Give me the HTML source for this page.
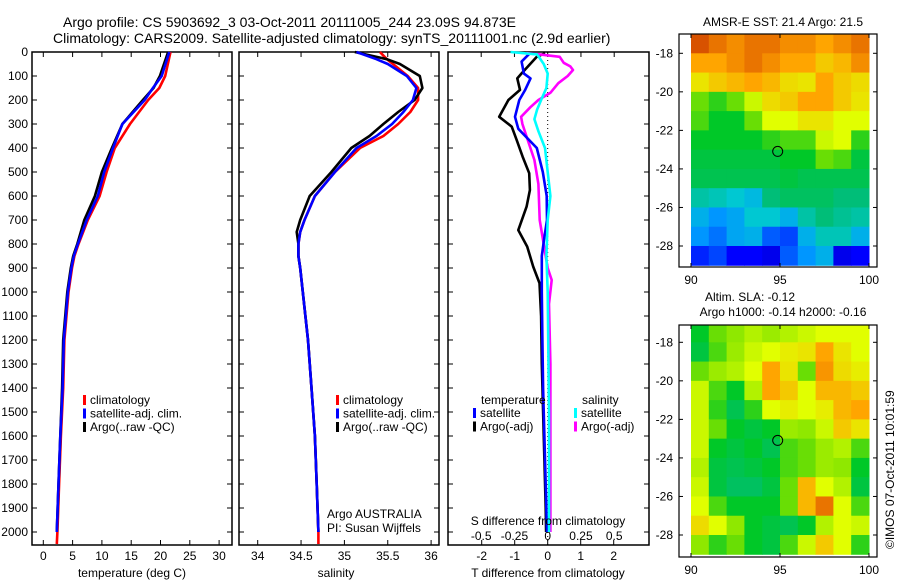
<!DOCTYPE html>
<html><head><meta charset="utf-8">
<style>
html,body{margin:0;padding:0;background:#fff;}
svg{display:block;font-family:"Liberation Sans",sans-serif;}
text{font-size:12px;fill:#000;}
</style></head>
<body>
<svg id="chart" width="900" height="580" viewBox="0 0 900 580" xmlns="http://www.w3.org/2000/svg">
<text x="63" y="27" style="font-size:14px">Argo profile: CS 5903692_3 03-Oct-2011 20111005_244 23.09S 94.873E</text>
<text x="53" y="43" style="font-size:14px">Climatology: CARS2009. Satellite-adjusted climatology: synTS_20111001.nc (2.9d earlier)</text>
<g id="g"></g>
</svg>
<script>
// ---- depth grid / data ----
const tDepth = [0,100,150,200,300,400,500,600,700,800,850,900,1000,1200,1400,1600,1800,2000,2050];
const tClim  = [21.7,20.8,19.8,17.9,14.8,12.2,10.8,9.6,7.6,6.0,5.3,4.9,4.3,3.6,3.4,3.0,2.7,2.4,2.3];
const tSat   = [21.5,20.2,18.7,17.3,13.5,11.9,10.4,9.3,7.4,5.9,5.2,4.8,4.2,3.5,3.3,2.9,2.6,2.3];
const tArgo  = [21.3,19.9,18.8,17.0,13.5,11.7,10.0,8.8,7.0,5.8,5.1,4.7,4.1,3.4,3.2,2.9,2.6,2.3];
const sDepth = [0,30,50,100,150,200,250,300,350,400,500,600,700,750,800,850,900,1000,1200,1400,1600,1800,2000,2050];
const sClim  = [35.41,35.49,35.56,35.73,35.85,35.85,35.76,35.62,35.45,35.18,34.89,34.66,34.54,34.49,34.47,34.47,34.49,34.52,34.58,34.62,34.66,34.68,34.70,34.70];
const sSat   = [35.14,35.37,35.50,35.72,35.83,35.79,35.68,35.55,35.37,35.14,34.89,34.66,34.54,34.49,34.47,34.47,34.49,34.52,34.58,34.62,34.66,34.68,34.70];
const sArgo  = [35.12,35.49,35.64,35.87,35.90,35.81,35.62,35.45,35.29,35.08,34.85,34.60,34.49,34.45,34.47,34.47,34.49,34.52,34.58,34.62,34.66,34.68,34.70];
const dTArgoDepth = [5,20,89,110,158,200,270,311,367,436,505,575,644,742,811,894,963,1100,1300,1500,1700,1900,2000];
const dTArgo      = [-0.08,-0.33,-0.79,-0.92,-0.84,-1.19,-1.47,-1.09,-0.94,-0.76,-0.56,-0.54,-0.64,-0.89,-0.62,-0.44,-0.25,-0.2,-0.18,-0.14,-0.1,-0.06,-0.05];
const dTSatDepth = [5,40,90,110,160,200,270,320,400,500,600,700,780,850,1000,1200,1400,1600,1800,2000];
const dTSat      = [-0.54,-0.79,-0.72,-0.52,-0.69,-0.86,-0.99,-0.89,-0.33,-0.15,-0.03,-0.02,-0.11,-0.18,-0.18,-0.16,-0.14,-0.1,-0.06,-0.02];
const dSSatDepth = [0,10,50,90,150,200,240,280,330,400,500,600,700,850,1000,1500,2000];
const dSSat      = [-0.28,-0.08,-0.03,0.0,-0.01,-0.05,-0.08,-0.10,-0.07,-0.02,0.0,0.02,0.0,-0.01,0.0,0.01,0.01];
const dSArgoDepth = [5,10,20,45,60,75,100,130,170,200,230,270,300,350,400,450,550,700,800,900,950,1050,1300,1600,2000];
const dSArgo      = [-0.16,-0.06,0.09,0.12,0.17,0.19,0.15,0.08,0.02,-0.07,-0.13,-0.20,-0.19,-0.16,-0.13,-0.10,-0.07,-0.06,-0.03,0.0,0.03,0.01,0.02,0.02,0.02];
const depthTicks = [0,100,200,300,400,500,600,700,800,900,1000,1100,1200,1300,1400,1500,1600,1700,1800,1900,2000];
const tTicks = [0,5,10,15,20,25,30];
const sTicks = [34,34.5,35,35.5,36];
const dTTicks = [-2,-1,0,1,2];
const dSTicks = [-0.5,-0.25,0,0.25,0.5];
const sstGrid = [
[.92,.88,.85,.88,.88,.85,.85,.82,.85,.88],
[.82,.82,.85,.88,.85,.82,.82,.78,.80,.85],
[.75,.78,.80,.82,.80,.76,.75,.82,.78,.76],
[.62,.58,.62,.70,.76,.78,.82,.82,.78,.75],
[.60,.55,.55,.62,.72,.72,.75,.75,.72,.72],
[.55,.55,.55,.55,.58,.60,.60,.70,.72,.58],
[.52,.52,.52,.52,.52,.55,.55,.62,.60,.52],
[.50,.50,.50,.50,.50,.52,.50,.50,.50,.50],
[.40,.38,.35,.32,.45,.48,.48,.48,.45,.45],
[.30,.25,.28,.35,.35,.30,.40,.45,.42,.40],
[.25,.22,.28,.30,.20,.18,.30,.38,.38,.30],
[.15,.18,.12,.12,.10,.20,.25,.30,.10,.12]];
const slaGrid = [
[.55,.62,.65,.68,.66,.68,.70,.72,.72,.72],
[.52,.60,.66,.70,.72,.74,.75,.82,.75,.72],
[.62,.66,.68,.72,.82,.75,.62,.84,.76,.74],
[.70,.60,.55,.68,.82,.78,.72,.80,.80,.78],
[.70,.58,.50,.58,.72,.74,.72,.74,.80,.82],
[.70,.62,.55,.52,.55,.66,.65,.70,.78,.75],
[.70,.55,.52,.55,.50,.60,.62,.66,.68,.60],
[.68,.52,.50,.52,.55,.60,.62,.66,.65,.55],
[.70,.52,.48,.48,.52,.62,.80,.72,.68,.52],
[.72,.60,.55,.55,.55,.62,.80,.88,.72,.60],
[.76,.72,.65,.55,.52,.50,.55,.68,.72,.70],
[.65,.58,.62,.55,.52,.60,.70,.78,.72,.58]];
const lonTicks=[90,95,100];
const latTicks=[-18,-20,-22,-24,-26,-28];

const NS="http://www.w3.org/2000/svg";
const root=document.getElementById('g');
function el(tag,attrs,parent){const e=document.createElementNS(NS,tag);for(const k in attrs)e.setAttribute(k,attrs[k]);(parent||root).appendChild(e);return e;}
function txt(x,y,s,anchor,parent,size){const t=el('text',{x:x,y:y,'text-anchor':anchor||'start'},parent);if(size)t.style.fontSize=size+'px';t.textContent=s;return t;}

const yD=d=>52+d*0.24;
const xT=v=>43.3+v*5.86;
const xS=v=>257.7+(v-34)*86.7;
const xDT=v=>547.7+v*33;
const xDS=v=>547.7+v*133;
const axTop=52,axBot=545;

function frame(x0,x1,name){
  const g=el('g',{});
  
  
  el('rect',{x:x0,y:axTop,width:x1-x0,height:axBot-axTop,fill:'none',stroke:'#000','stroke-width':1.5},g);
  depthTicks.forEach(d=>{const y=yD(d);
    el('line',{x1:x0,x2:x0+5,y1:y,y2:y,stroke:'#000'},g);
    el('line',{x1:x1-5,x2:x1,y1:y,y2:y,stroke:'#000'},g);});
  return g;
}
function line(xs,ds,xf,color,name,parent,w){
  const p=el('polyline',{points:xs.map((v,i)=>xf(v).toFixed(1)+','+yD(ds[i]).toFixed(1)).join(' '),fill:'none',stroke:color,'stroke-width':w||2.6,'stroke-linejoin':'round'},parent);
  
  
  return p;
}
function xticks(g,ticks,f,yLab){ticks.forEach(v=>{const x=f(v);
  el('line',{x1:x,x2:x,y1:axBot,y2:axBot-5,stroke:'#000'},g);
  el('line',{x1:x,x2:x,y1:axTop,y2:axTop+5,stroke:'#000'},g);
  const t=txt(x,yLab,String(v),'middle',g);
  
  });}
function legend(g,x,y0,items){items.forEach((it,i)=>{const y=y0+i*13.5;
  el('rect',{x:x,y:y-9,width:3,height:10,fill:it[0]},g);
  txt(x+7,y,it[1],'start',g);});}

// panel 1 temperature
const g1=frame(32,232,'temperature-panel');
depthTicks.forEach(d=>{const t=txt(28,yD(d)+4,String(d),'end',g1);
  
  });
xticks(g1,tTicks,xT,560);
line(tClim,tDepth,xT,'#ff0000','temperature-climatology-line',g1);
line(tArgo,tDepth,xT,'#000000','temperature-argo-line',g1);
line(tSat,tDepth,xT,'#0000ff','temperature-satellite-line',g1);
const lg1=el('g',{},g1);
legend(lg1,83,404,[['#ff0000','climatology'],['#0000ff','satellite-adj. clim.'],['#000000','Argo(..raw -QC)']]);
txt(132,577,'temperature (deg C)','middle',g1);

// panel 2 salinity
const g2=frame(239,439,'salinity-panel');
xticks(g2,sTicks,xS,560);
line(sClim,sDepth,xS,'#ff0000','salinity-climatology-line',g2);
line(sArgo,sDepth,xS,'#000000','salinity-argo-line',g2);
line(sSat,sDepth,xS,'#0000ff','salinity-satellite-line',g2);
const lg2=el('g',{},g2);
legend(lg2,336,404,[['#ff0000','climatology'],['#0000ff','satellite-adj. clim.'],['#000000','Argo(..raw -QC)']]);
txt(327,518,'Argo AUSTRALIA','start',g2);
txt(327,532,'PI: Susan Wijffels','start',g2);
txt(336,577,'salinity','middle',g2);

// panel 3 differences
const g3=frame(448,649,'difference-panel');
el('line',{x1:547.7,x2:547.7,y1:axTop,y2:axBot,stroke:'#000','stroke-dasharray':'1,3'},g3);
dTTicks.forEach(v=>{const x=xDT(v);el('line',{x1:x,x2:x,y1:axBot,y2:axBot-5,stroke:'#000'},g3);
  const t=txt(x,560,String(v),'middle',g3);});
dSTicks.forEach(v=>{const x=xDS(v);el('line',{x1:x,x2:x,y1:axTop,y2:axTop+5,stroke:'#000'},g3);
  const t=txt(x,540,String(v),'middle',g3);});
line(dTArgo,dTArgoDepth,xDT,'#000000','temperature-diff-argo-line',g3);
line(dSArgo,dSArgoDepth,xDS,'#ff00ff','salinity-diff-argo-line',g3);
line(dTSat,dTSatDepth,xDT,'#0000ff','temperature-diff-satellite-line',g3);
line(dSSat,dSSatDepth,xDS,'#00ffff','salinity-diff-satellite-line',g3);
const lg3=el('g',{},g3);
txt(481,404,'temperature','start',lg3);txt(582,404,'salinity','start',lg3);
legend(lg3,473,417,[['#0000ff','satellite'],['#000000','Argo(-adj)']]);
legend(lg3,574,417,[['#00ffff','satellite'],['#ff00ff','Argo(-adj)']]);
txt(548,525,'S difference from climatology','middle',g3);
txt(548,577,'T difference from climatology','middle',g3);

// maps
const stops=[[0,[0,0,140]],[.12,[0,0,255]],[.25,[0,150,255]],[.35,[0,200,210]],[.45,[0,190,120]],[.55,[0,200,40]],[.63,[120,225,0]],[.72,[225,255,0]],[.82,[255,165,0]],[.9,[225,100,0]],[1,[180,10,0]]];
function cmap(v){for(let i=1;i<stops.length;i++){if(v<=stops[i][0]){const a=stops[i-1],b=stops[i],t=(v-a[0])/(b[0]-a[0]);
  return 'rgb('+a[1].map((c,k)=>Math.round(c+(b[1][k]-c)*t)).join(',')+')';}}return 'rgb(180,10,0)';}
function map(grid,boxTop,boxBot,lat18y,name){
  const g=el('g',{});
  const xL=lon=>691+(lon-90)*17.8;
  const yL=lat=>lat18y+(-18-lat)*19.27;
  grid.forEach((row,r)=>row.forEach((v,c)=>{
    const y0=Math.max(yL(-17-r),boxTop),y1=Math.min(yL(-18-r),boxBot);
    const x0=xL(90+c),x1=Math.min(xL(91+c),877);
    const cell=el('rect',{x:x0,y:y0,width:x1-x0+0.5,height:y1-y0+0.5,fill:cmap(v)},g);
    
    }));
  el('rect',{x:679,y:boxTop,width:198,height:boxBot-boxTop,fill:'none',stroke:'#000','stroke-width':1.2},g);
  latTicks.forEach(l=>{const y=yL(l);el('line',{x1:679,x2:683,y1:y,y2:y,stroke:'#000'},g);el('line',{x1:873,x2:877,y1:y,y2:y,stroke:'#000'},g);txt(673,y+4,String(l),'end',g);});
  lonTicks.forEach(l=>{const x=xL(l);el('line',{x1:x,x2:x,y1:boxBot,y2:boxBot-4,stroke:'#000'},g);el('line',{x1:x,x2:x,y1:boxTop,y2:boxTop+4,stroke:'#000'},g);txt(x,boxBot+17,String(l),'middle',g);});
  const c=el('circle',{cx:xL(94.87),cy:yL(-23.09),r:5,fill:'none',stroke:'#000'},g);
  
}
map(sstGrid,34,267,53.3,'sst-map');
map(slaGrid,325,557,342.3,'sla-map');
txt(783,26,'AMSR-E SST: 21.4 Argo: 21.5','middle');
txt(750,301,'Altim. SLA: -0.12','middle');
txt(783,316,'Argo h1000: -0.14 h2000: -0.16','middle');
const cr=txt(0,0,'©IMOS 07-Oct-2011 10:01:59','start');
cr.setAttribute('transform','translate(894,549) rotate(-90)');

</script>
</body></html>
